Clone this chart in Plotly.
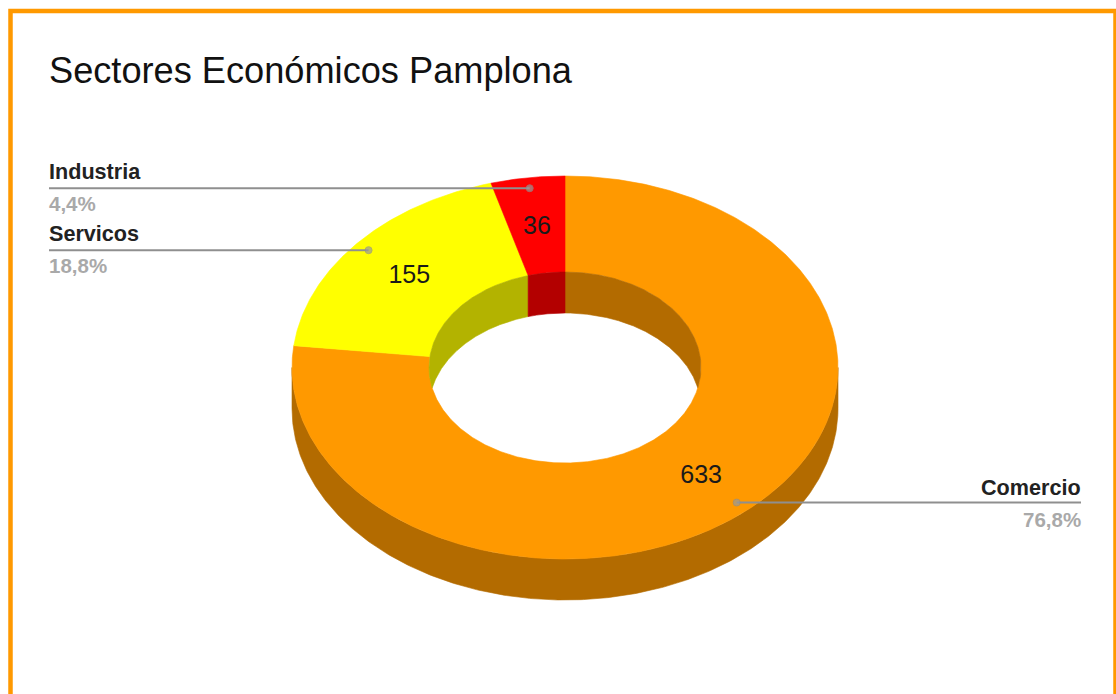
import numpy as np
import plotly.graph_objects as go

# Business counts per economic sector in Pamplona
categories = ["Comercio", "Servicos", "Industria"]
values = [633, 155, 36]
face_colors = ["#ff9900", "#ffff00", "#ff0000"]
wall_colors = ["#b36b00", "#b3b300", "#b30000"]
title_text = "Sectores Económicos Pamplona"

WIDTH, HEIGHT = 1116, 694
CX, CY = 565.0, 367.5        # centre of the tilted top face
RX, RY = 273.0, 191.5        # outer ellipse radii
HOLE_RX, HOLE_RY = 136.0, 95.5
DEPTH = 41.0                 # extruded thickness of the ring
LEADER_FRACTION = 0.945      # leader anchor, as a share of the outer radius
FONT = "Liberation Sans, Arial, sans-serif"

total = sum(values)
edges = np.concatenate([[0.0], np.cumsum(values)]) / total * 2 * np.pi


def ellipse_point(t, rx, ry, dy=0.0):
    return CX + rx * np.sin(t), CY + dy - ry * np.cos(t)


def sector_polygon(t0, t1):
    t = np.linspace(t0, t1, max(8, int((t1 - t0) * 120)))
    ox, oy = ellipse_point(t, RX, RY)
    ix, iy = ellipse_point(t[::-1], HOLE_RX, HOLE_RY)
    return np.r_[ox, ix, ox[0]], np.r_[oy, iy, oy[0]]


def outer_wall_polygon(t0, t1):
    # The outer wall is only seen along the front half of the ellipse
    a, b = max(t0, np.pi / 2), min(t1, 3 * np.pi / 2)
    if a >= b:
        return None
    t = np.linspace(a, b, 300)
    ux, uy = ellipse_point(t, RX, RY)
    lx, ly = ellipse_point(t[::-1], RX, RY, DEPTH)
    return np.r_[ux, lx, ux[0]], np.r_[uy, ly, uy[0]]


def inner_wall_polygon(t0, t1):
    # The inner wall is what is left of the hole once it is shifted down by the depth
    x0 = HOLE_RX * np.sin(t0)
    x1 = HOLE_RX * np.sin(t1)
    if t0 < np.pi / 2 <= t1:
        x1 = HOLE_RX
    if x0 / HOLE_RX < -0.98:
        x0 = -HOLE_RX
    x = np.linspace(x0, x1, 400)
    h = HOLE_RY * np.sqrt(np.clip(1 - (x / HOLE_RX) ** 2, 0, 1))
    upper = CY - h
    lower = np.minimum(CY + DEPTH - h, CY + h)
    px = CX + np.r_[x, x[::-1], x[0]]
    py = np.r_[upper, lower[::-1], upper[0]]
    return px, py


def add_fill(fig, poly, color):
    fig.add_trace(go.Scatter(
        x=poly[0], y=poly[1], mode="lines", fill="toself", fillcolor=color,
        line=dict(width=0.6, color=color), hoverinfo="skip", showlegend=False,
    ))


fig = go.Figure()

for i in range(len(values)):
    poly = outer_wall_polygon(edges[i], edges[i + 1])
    if poly is not None:
        add_fill(fig, poly, wall_colors[i])

for i in range(len(values)):
    add_fill(fig, sector_polygon(edges[i], edges[i + 1]), face_colors[i])

for i in range(len(values)):
    add_fill(fig, inner_wall_polygon(edges[i], edges[i + 1]), wall_colors[i])

mid = (edges[:-1] + edges[1:]) / 2

# Value labels sit in the middle of the ring, nudged to centre the digits optically
vx, vy = ellipse_point(mid, (RX + HOLE_RX) / 2, (RY + HOLE_RY) / 2, 2.0)
fig.add_trace(go.Scatter(
    x=vx, y=vy, mode="text", text=[str(v) for v in values],
    textposition="middle center",
    textfont=dict(family=FONT, size=25, color="#1a1a1a"),
    hoverinfo="skip", showlegend=False,
))

# Leader lines: Comercio runs to the right edge, the others to the left edge
ax, ay = ellipse_point(mid, RX * LEADER_FRACTION, RY * LEADER_FRACTION)
label_edge = [1081, 49, 49]
name_offset = [-15, -17, -17]
share_offset = [17, 15, 15]
for i in range(len(values)):
    fig.add_trace(go.Scatter(
        x=[ax[i], label_edge[i]], y=[ay[i], ay[i]], mode="lines+markers",
        line=dict(color="#8f8f8f", width=2),
        marker=dict(size=[7, 0], color="#9a9a9a"),
        hoverinfo="skip", showlegend=False,
    ))
    anchor = "right" if label_edge[i] > CX else "left"
    share = f"{values[i] / total * 100:.1f}%".replace(".", ",")
    fig.add_annotation(
        x=label_edge[i], y=ay[i] + name_offset[i], xref="x", yref="y",
        text=f"<b>{categories[i]}</b>",
        showarrow=False, xanchor=anchor, yanchor="middle",
        font=dict(family=FONT, size=21.6, color="#222222"), borderpad=0, borderwidth=0,
    )
    fig.add_annotation(
        x=label_edge[i], y=ay[i] + share_offset[i], xref="x", yref="y",
        text=f"<b>{share}</b>",
        showarrow=False, xanchor=anchor, yanchor="middle",
        font=dict(family=FONT, size=20.5, color="#a9a9a9"), borderpad=0, borderwidth=0,
    )

fig.update_layout(
    width=WIDTH, height=HEIGHT,
    margin=dict(l=0, r=0, t=0, b=0),
    paper_bgcolor="white", plot_bgcolor="white",
    title=dict(
        text=title_text, x=49 / WIDTH, y=1 - 70 / HEIGHT,
        xanchor="left", yanchor="middle",
        font=dict(family=FONT, size=36.2, color="#111111"),
    ),
    xaxis=dict(range=[0, WIDTH], visible=False, fixedrange=True),
    yaxis=dict(range=[HEIGHT, 0], visible=False, fixedrange=True),
    shapes=[dict(
        type="rect", xref="x", yref="y", x0=10.5, y0=11, x1=1115.5, y1=720,
        line=dict(color="#ff9900", width=4.5), fillcolor="rgba(0,0,0,0)", layer="below",
    )],
)

fig.write_html("out.html")
